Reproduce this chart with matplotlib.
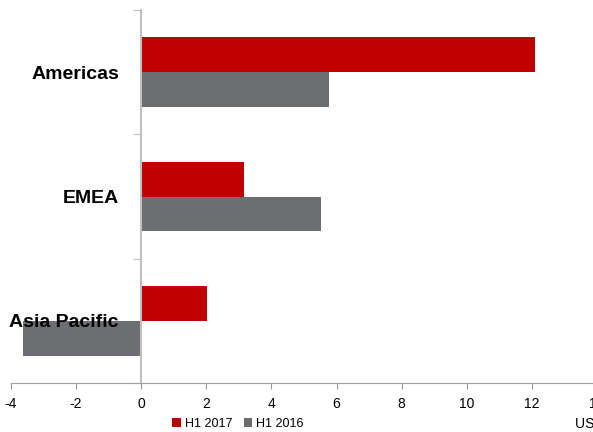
import matplotlib.pyplot as plt
import numpy as np

regions = ['Americas', 'EMEA', 'Asia Pacific']
h1_2017 = [12.1, 3.15, 2.03]
h1_2016 = [5.78, 5.53, -3.62]
x_ticks = [-4, -2, 0, 2, 4, 6, 8, 10, 12, 14]

plt.rcParams['font.family'] = ['Liberation Sans', 'DejaVu Sans']
plt.rcParams['axes.unicode_minus'] = False

fig = plt.figure(figsize=(5.93, 4.32), dpi=100)
ax = fig.add_axes([11 / 593, 49 / 432, 586 / 593, 373 / 432])

y = np.arange(len(regions))
bh = 0.28
ax.barh(y - bh / 2, h1_2017, height=bh, color='#C00000', label='H1 2017')
ax.barh(y + bh / 2, h1_2016, height=bh, color='#6D6E71', label='H1 2016')

ax.set_xlim(-4, 14)
ax.set_ylim(2.5, -0.5)
ax.set_xticks(x_ticks)
ax.tick_params(axis='x', length=4, color='#999999', labelsize=10, pad=6)

# category labels sit on the zero line, ticks mark the band edges
ax.spines['left'].set_position(('data', 0))
ax.spines['left'].set_color('#c0c0c0')
ax.spines['left'].set_linewidth(1.5)
ax.spines['bottom'].set_color('#a0a0a0')
ax.spines['top'].set_visible(False)
ax.spines['right'].set_visible(False)
ax.set_yticks([-0.5, 0.5, 1.5, 2.5])
ax.set_yticklabels([])
ax.tick_params(axis='y', which='major', length=6, color='#c0c0c0')
ax.set_yticks(y, minor=True)
ax.set_yticklabels(regions, minor=True, fontsize=14, fontweight='bold')
ax.tick_params(axis='y', which='minor', length=0, pad=16)

ax.legend(loc='center', bbox_to_anchor=(238 / 593, 8 / 432), bbox_transform=fig.transFigure,
          ncol=2, frameon=False, fontsize=9, handlelength=0.7, handleheight=0.7,
          handletextpad=0.3, columnspacing=0.9)
fig.text(575 / 593, 1 / 432, 'US$ m', fontsize=10, ha='left', va='bottom')

plt.savefig('out.png')
plt.close()
